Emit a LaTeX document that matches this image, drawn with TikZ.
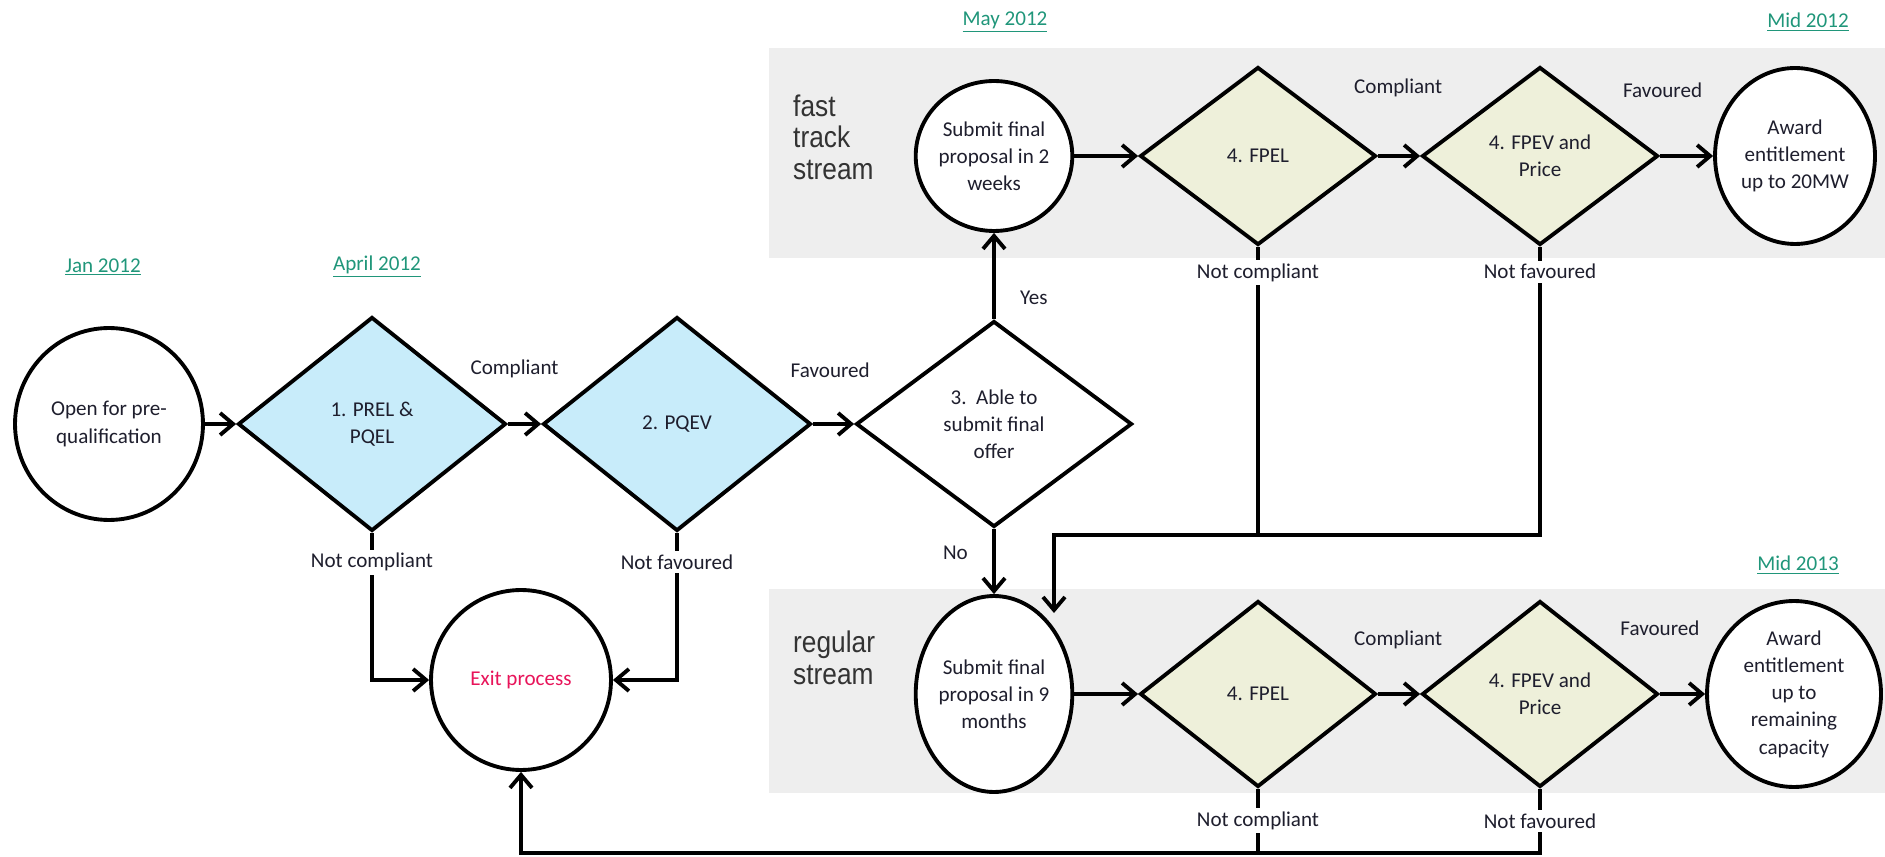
\documentclass[tikz,border=0pt]{standalone}
\usepackage{fontspec}
\setmainfont{Carlito}
\newfontfamily\streamfont{Liberation Sans}[FakeStretch=0.88]
\usetikzlibrary{positioning,arrows.meta,shapes.geometric}

\definecolor{datecol}{RGB}{32,150,122}
\definecolor{pqfill}{RGB}{200,236,250}
\definecolor{fpfill}{RGB}{238,240,218}
\definecolor{bandcol}{RGB}{238,238,238}
\definecolor{exitcol}{RGB}{232,20,90}
\definecolor{inkcol}{RGB}{30,30,45}

\begin{document}
\begin{tikzpicture}[x=0.02cm, y=-0.02cm,
  every node/.style={font=\fontsize{12}{15.5}\selectfont, text=inkcol},
  circ/.style={ellipse, draw=black, line width=2.2pt, fill=white, align=center, inner sep=0pt},
  dia/.style={diamond, draw=black, line width=2.2pt, align=center, inner sep=0pt},
  arr/.style={-{Straight Barb[length=2.6mm,width=4.4mm]}, line width=2.2pt},
  link/.style={line width=2.2pt},
  lbl/.style={inner sep=1pt},
  cutlbl/.style={fill=white, inner sep=2pt},
  datelbl/.style={text=datecol},
  stream/.style={font=\streamfont\fontsize{17}{18}\selectfont, align=left, anchor=west, text=black!80}
]
\useasboundingbox (0,0) rectangle (1885,857);

% stream bands
\fill[bandcol] (769,48) rectangle (1885,258);
\fill[bandcol] (769,589) rectangle (1885,793);
\node[stream] (fastlbl) at (787,137) {fast\\track\\stream};
\node[stream] (reglbl) at (787,658) {regular\\stream};

% dates
\node[datelbl] (jan) at (103,267) {\underline{Jan 2012}};
\node[datelbl] (apr) at (377,267) {\underline{April 2012}};
\node[datelbl] (may) at (1005,22) {\underline{May 2012}};
\node[datelbl] (mid12) at (1808,22) {\underline{Mid 2012}};
\node[datelbl] (mid13) at (1798,565) {\underline{Mid 2013}};

% pre-qualification
\node[circ, minimum width=3.76cm, minimum height=3.84cm] (open) at (109,424) {Open for pre-\\qualification};
\node[dia, fill=pqfill, minimum width=5.36cm, minimum height=4.28cm] (prel) at (372,424) {1. PREL \&\\PQEL};
\node[dia, fill=pqfill, minimum width=5.36cm, minimum height=4.28cm] (pqev) at (677,424) {2. PQEV};
\node[dia, fill=white, minimum width=5.52cm, minimum height=4.12cm] (able) at (994,424) {3.\ \ Able to\\submit final\\offer};
\node[circ, minimum width=3.6cm, minimum height=3.6cm, text=exitcol] (exit) at (521,680) {Exit process};

% fast track stream
\node[circ, minimum width=2.76cm, minimum height=3.0cm] (fastsub) at (994,156) {Submit final\\proposal in 2\\weeks};
\node[dia, fill=fpfill, minimum width=4.72cm, minimum height=3.56cm] (fastfpel) at (1258,156) {4. FPEL};
\node[dia, fill=fpfill, minimum width=4.72cm, minimum height=3.56cm] (fastfpev) at (1540,156) {4. FPEV and\\Price};
\node[circ, minimum width=3.2cm, minimum height=3.52cm] (fastaward) at (1795,156) {Award\\entitlement\\up to 20MW};

% regular stream
\node[circ, minimum width=2.76cm, minimum height=3.92cm] (regsub) at (994,694) {Submit final\\proposal in 9\\months};
\node[dia, fill=fpfill, minimum width=4.72cm, minimum height=3.72cm] (regfpel) at (1258,694) {4. FPEL};
\node[dia, fill=fpfill, minimum width=4.72cm, minimum height=3.72cm] (regfpev) at (1540,694) {4. FPEV and\\Price};
\node[circ, minimum width=3.48cm, minimum height=3.72cm] (regaward) at (1794,694) {Award\\entitlement\\up to\\remaining\\capacity};

\coordinate (fb) at (1054,535);
\coordinate (fbtip) at (1054,613);
\coordinate (bot) at (521,853);

% main row
\draw[arr] (open) -- (prel);
\draw[arr] (prel) -- node[lbl, pos=0.2, above=0.85cm] {Compliant} (pqev);
\draw[arr] (pqev) -- node[lbl, pos=0.42, above=0.85cm] {Favoured} (able);
\draw[arr] (able) -- node[lbl, pos=0.25, right=0.45cm] {Yes} (fastsub);
\draw[arr] (able) -- node[lbl, pos=0.36, left=0.45cm] {No} (regsub);
\draw[arr] (prel.south) |- node[cutlbl, pos=0.1] {Not compliant} (exit.west);
\draw[arr] (pqev.south) |- node[cutlbl, pos=0.1] {Not favoured} (exit.east);

% fast row
\draw[arr] (fastsub) -- (fastfpel);
\draw[arr] (fastfpel) -- node[lbl, pos=0.48, above=1.1cm] {Compliant} (fastfpev);
\draw[arr] (fastfpev) -- node[lbl, pos=0.05, above=1.1cm] {Favoured} (fastaward);
\draw[link] (fastfpel.south) -- node[cutlbl, pos=0.09] {Not compliant} (fastfpel.south |- fb);
\draw[arr] (fastfpev.south) |- node[cutlbl, pos=0.043] {Not favoured} (fb) -- (fbtip);

% regular row
\draw[arr] (regsub) -- (regfpel);
\draw[arr] (regfpel) -- node[lbl, pos=0.48, above=0.82cm] {Compliant} (regfpev);
\draw[arr] (regfpev) -- node[lbl, pos=0.0, above=1.1cm] {Favoured} (regaward);
\draw[link] (regfpel.south) -- node[cutlbl] {Not compliant} (regfpel.south |- bot);
\draw[arr] (regfpev.south) |- node[cutlbl, pos=0.25] {Not favoured} (bot) -- (exit.south);
\end{tikzpicture}
\end{document}
